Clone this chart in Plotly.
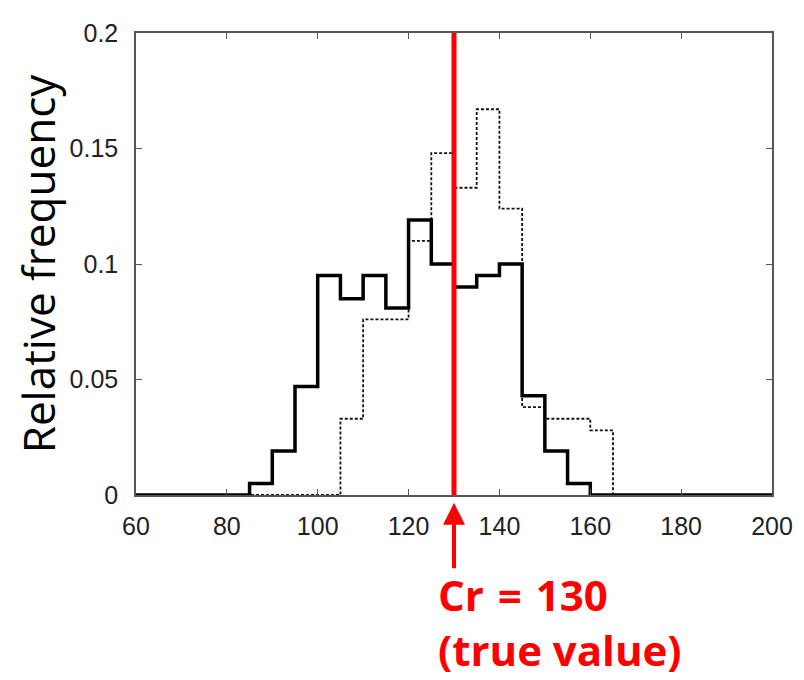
import plotly.graph_objects as go

# bin edges (left edges) and relative frequencies
edges = [60, 65, 70, 75, 80, 85, 90, 95, 100, 105, 110, 115, 120, 125, 130, 135,
         140, 145, 150, 155, 160, 165, 170, 175, 180, 185, 190, 195, 200]
solid_vals = [0, 0, 0, 0, 0, 0.005, 0.019, 0.047, 0.095, 0.085, 0.095, 0.081, 0.119, 0.100,
              0.090, 0.095, 0.100, 0.043, 0.019, 0.005, 0, 0, 0, 0, 0, 0, 0, 0, 0]
dashed_vals = [0, 0, 0, 0, 0, 0, 0, 0, 0, 0.033, 0.076, 0.076, 0.110, 0.148,
               0.133, 0.167, 0.124, 0.038, 0.033, 0.033, 0.028, 0, 0, 0, 0, 0, 0, 0, 0]
true_value = 130
x_ticks = [60, 80, 100, 120, 140, 160, 180, 200]
y_ticks = [0, 0.05, 0.1, 0.15, 0.2]
y_tick_text = ["0", "0.05", "0.1", "0.15", "0.2"]

fig = go.Figure()
fig.add_trace(go.Scatter(x=edges, y=dashed_vals, mode="lines", line_shape="hv",
                         line=dict(color="#111111", width=1.8, dash="3px,2px"),
                         showlegend=False, hoverinfo="skip"))
fig.add_trace(go.Scatter(x=edges, y=solid_vals, mode="lines", line_shape="hv",
                         line=dict(color="#000000", width=3.5),
                         showlegend=False, hoverinfo="skip"))
fig.add_trace(go.Scatter(x=[true_value, true_value], y=[0, 0.2], mode="lines",
                         line=dict(color="#ff0000", width=5),
                         showlegend=False, hoverinfo="skip"))

fig.add_annotation(x=true_value, xref="x", y=-0.017, yref="paper", ax=0, ay=67,
                   axref="pixel", ayref="pixel", text="", showarrow=True,
                   arrowhead=2, arrowsize=1.1, arrowwidth=4, arrowcolor="#ff0000")
fig.add_annotation(x=0.471, xref="paper", y=-0.2752, yref="paper",
                   text="<b>Cr\u2004=\u2004130<br>(true value)</b>",
                   showarrow=False, xanchor="left", yanchor="middle", align="left",
                   font=dict(family="Open Sans", size=42, color="#ff0000"))

axis_common = dict(showgrid=False, zeroline=False, showline=True, linecolor="#555555",
                   linewidth=1.5, mirror="ticks", ticks="inside", ticklen=6,
                   tickcolor="#555555", tickwidth=1, ticklabeloverflow="allow",
                   tickfont=dict(family="Liberation Sans", size=25, color="#222222"))
fig.update_xaxes(range=[60, 200], tickvals=x_ticks, ticktext=[str(t) for t in x_ticks],
                 ticklabelstandoff=8, **axis_common)
fig.update_yaxes(range=[0, 0.2], tickvals=y_ticks, ticktext=y_tick_text,
                 ticklabelstandoff=11,
                 title=dict(text="Relative frequency", standoff=14,
                            font=dict(family="Open Sans", size=44, color="#000000")),
                 **axis_common)

# the page body adds an 8px offset, so the figure is sized to fit the remaining window
fig.update_layout(width=796, height=672, margin=dict(l=128, r=27, t=11, b=185),
                  plot_bgcolor="white", paper_bgcolor="white")
fig.write_html("out.html")
